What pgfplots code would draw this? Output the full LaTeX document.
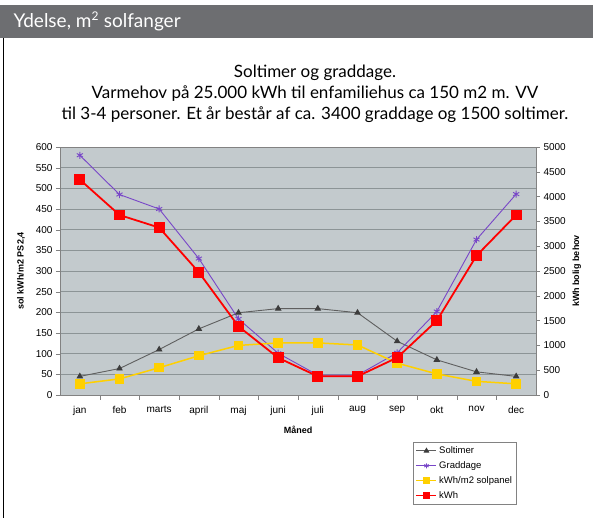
\documentclass[border=0pt]{standalone}
\usepackage{pgfplots}
\pgfplotsset{compat=1.18}
\usepackage{fontspec}
\setmainfont{Liberation Sans}
\newfontfamily\titlefont{Lato}
\definecolor{plotbg}{RGB}{195,202,205}
\definecolor{gridc}{RGB}{140,148,150}
\definecolor{hdr}{RGB}{109,110,113}
\definecolor{purp}{RGB}{120,70,200}
\definecolor{yell}{RGB}{255,208,0}
\definecolor{solline}{RGB}{95,95,95}
\definecolor{solmark}{RGB}{60,60,60}
\definecolor{axgray}{RGB}{130,130,130}
\begin{document}
\begin{tikzpicture}
\path[use as bounding box, fill=white] (0pt,0pt) rectangle (593pt,518pt);
\fill[hdr] (0pt,480pt) rectangle (593pt,513pt);
\node[anchor=west, text=white, font=\titlefont\fontsize{19}{22}\selectfont] at (10pt,496.5pt) {Ydelse, m\textsuperscript{\fontsize{12}{12}\selectfont 2} solfanger};
\draw[black, line width=1pt] (3.5pt,480pt) -- (3.5pt,0pt);
\node[align=center, font=\titlefont\fontsize{17}{21}\selectfont] at (315pt,424pt) {Soltimer og graddage.\\Varmehov på 25.000 kWh til enfamiliehus ca 150 m2 m. VV\\til 3-4 personer. Et år består af ca. 3400 graddage og 1500 soltimer.};
\begin{axis}[
  at={(60pt,123pt)}, anchor=south west, scale only axis,
  width=476pt, height=248pt,
  xmin=-0.5, xmax=11.5, ymin=0, ymax=600,
  axis background/.style={fill=plotbg},
  axis line style={axgray},
  xtick={0,...,11},
  xticklabels={jan,feb,marts,april,maj,juni,juli,aug,sep,okt,nov,dec},
  minor xtick={0.5,1.5,...,10.5},
  major x tick style={draw=none},
  minor x tick style={axgray},
  minor tick length=5pt,
  ytick={0,50,...,600},
  major tick length=4pt,
  tick align=outside,
  xtick pos=bottom, ytick pos=left,
  y tick style={axgray},
  ymajorgrids, grid style={gridc, line width=0.8pt},
  /pgf/number format/assume math mode=true,
  tick label style={font=\fontsize{10}{11}\selectfont},
  xticklabel style={yshift=-4pt},
  xlabel={\textbf{Måned}},
  xlabel style={yshift=-3pt},
  ylabel={\textbf{sol kWh/m2 PS2,4}},
  label style={font=\fontsize{9}{10}\selectfont},
  ylabel style={yshift=4pt},
  clip=false,
]
\addplot[solline, line width=0.9pt, mark=triangle*, mark size=3pt, mark options={solmark}]
 coordinates {(0,45)(1,64)(2,110)(3,160)(4,199)(5,209)(6,209)(7,199)(8,130)(9,85)(10,56)(11,45)};
\addplot[purp, line width=0.9pt, mark=asterisk, mark size=3.5pt, mark options={purp}]
 coordinates {(0,580)(1,485)(2,450)(3,330)(4,184)(5,101)(6,48)(7,48)(8,102)(9,202)(10,376)(11,486)};
\addplot[yell, line width=1.5pt, mark=square*, mark size=4pt, mark options={yell}]
 coordinates {(0,27)(1,39)(2,66)(3,95)(4,120)(5,126)(6,126)(7,121)(8,77)(9,51)(10,33)(11,27)};
\end{axis}
\begin{axis}[
  at={(60pt,123pt)}, anchor=south west, scale only axis,
  width=476pt, height=248pt,
  xmin=-0.5, xmax=11.5, ymin=0, ymax=5000,
  axis x line=none, axis y line*=right,
  axis line style={axgray},
  ytick={0,500,...,5000},
  major tick length=4pt, tick align=outside,
  y tick style={axgray},
  /pgf/number format/1000 sep={},
  /pgf/number format/assume math mode=true,
  tick label style={font=\fontsize{10}{11}\selectfont},
  ylabel={\textbf{kWh bolig behov}},
  label style={font=\fontsize{9}{10}\selectfont},
  legend style={at={(0.7416,-0.1895)}, anchor=north west, draw=axgray,
    font=\fontsize{9.5}{10}\selectfont, row sep=2.5pt, inner sep=2.5pt,
    legend image code/.code={\draw[mark repeat=2,mark phase=2,#1] plot coordinates {(0pt,0pt) (10pt,0pt) (20pt,0pt)};}},
  legend cell align=left,
  clip=false,
]
\addlegendimage{solline, line width=0.9pt, mark=triangle*, mark size=2.5pt, mark options={solmark}}
\addlegendentry{Soltimer}
\addlegendimage{purp, line width=0.9pt, mark=asterisk, mark size=2.5pt, mark options={purp}}
\addlegendentry{Graddage}
\addlegendimage{yell, line width=1.5pt, mark=square*, mark size=3pt, mark options={yell}}
\addlegendentry{kWh/m2 solpanel}
\addlegendimage{red, line width=1.5pt, mark=square*, mark size=3pt, mark options={red}}
\addlegendentry{kWh}
\addplot[red, line width=1.8pt, mark=square*, mark size=4.5pt, mark options={red}, forget plot]
 coordinates {(0,4342)(1,3629)(2,3375)(3,2475)(4,1383)(5,750)(6,376)(7,376)(8,753)(9,1499)(10,2809)(11,3629)};
\end{axis}
\end{tikzpicture}
\end{document}
